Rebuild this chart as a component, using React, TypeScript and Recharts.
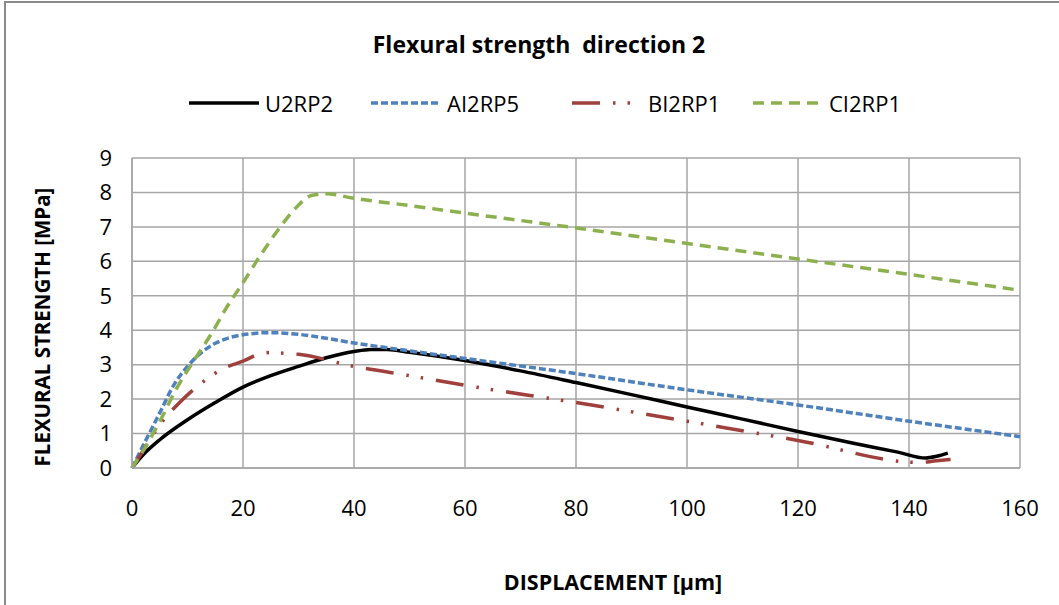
import React from "react";
import { LineChart, Line, XAxis, YAxis, CartesianGrid } from "recharts";

// displacement [µm] / strength [MPa] samples per specimen
const u2rp2X = [0, 2, 5, 10, 15, 20, 25, 30, 35, 40, 43, 46, 50, 60, 70, 80, 90, 100, 110, 120, 130, 138, 143, 145, 147];
const u2rp2Y = [0, 0.38, 0.82, 1.4, 1.9, 2.35, 2.68, 2.95, 3.2, 3.38, 3.44, 3.44, 3.36, 3.12, 2.82, 2.48, 2.13, 1.77, 1.42, 1.06, 0.72, 0.46, 0.29, 0.34, 0.43];

const ai2rp5X = [0, 2, 5, 7.5, 10, 12.5, 15, 17.5, 20, 25, 30, 40, 50, 60, 80, 100, 120, 140, 160];
const ai2rp5Y = [0, 0.65, 1.6, 2.4, 2.95, 3.35, 3.62, 3.78, 3.87, 3.93, 3.88, 3.63, 3.4, 3.18, 2.74, 2.27, 1.83, 1.36, 0.91];

const bi2rp1X = [0, 2, 5, 9, 12, 16.5, 20, 24, 30, 40, 50, 60, 80, 100, 120, 142, 144.5, 147.5];
const bi2rp1Y = [0, 0.5, 1.25, 1.97, 2.4, 2.89, 3.1, 3.35, 3.3, 2.95, 2.68, 2.4, 1.9, 1.36, 0.8, 0.16, 0.2, 0.25];

const ci2rp1X = [0, 2, 5, 8, 11.5, 14.5, 17, 20, 23, 26.5, 29.5, 32.5, 35, 40, 50, 60, 80, 100, 120, 140, 160];
const ci2rp1Y = [0, 0.5, 1.35, 2.3, 3.2, 3.95, 4.65, 5.38, 6.14, 6.95, 7.55, 7.92, 7.96, 7.83, 7.62, 7.4, 6.97, 6.52, 6.07, 5.62, 5.16];

const xTicks = [0, 20, 40, 60, 80, 100, 120, 140, 160];
const yTicks = [0, 1, 2, 3, 4, 5, 6, 7, 8, 9];

const toPoints = (xs: number[], ys: number[]) => xs.map((x, i) => ({ x, y: ys[i] }));

const series = [
  { name: "U2RP2", data: toPoints(u2rp2X, u2rp2Y), color: "#000000", dash: undefined, legendLeft: 188 },
  { name: "AI2RP5", data: toPoints(ai2rp5X, ai2rp5Y), color: "#4F81BD", dash: "7 3", legendLeft: 370 },
  { name: "BI2RP1", data: toPoints(bi2rp1X, bi2rp1Y), color: "#A0403C", dash: "28 13 2.5 12 2.5 13", legendLeft: 571 },
  { name: "CI2RP1", data: toPoints(ci2rp1X, ci2rp1Y), color: "#8DB04F", dash: "11 7", legendLeft: 752 },
];

const FONT = "'Open Sans', Lato, sans-serif";
const GRID = "#a6a6a6";

const LegendRow = () => (
  <>
    {series.map((s) => (
      <div
        key={s.name}
        style={{
          position: "absolute",
          top: 88,
          left: s.legendLeft,
          display: "flex",
          alignItems: "center",
          fontFamily: FONT,
          fontSize: 22,
          whiteSpace: "nowrap",
        }}
      >
        <svg width={72} height={10} style={{ marginRight: 5 }}>
          <line x1={1} y1={5} x2={71} y2={5} stroke={s.color} strokeWidth={3.5} strokeDasharray={s.dash} />
        </svg>
        <span>{s.name}</span>
      </div>
    ))}
  </>
);

export default function App() {
  return (
    <div style={{ position: "fixed", left: 0, top: 0, width: 1059, height: 605, background: "#fff", overflow: "hidden" }}>
      <div
        style={{
          position: "absolute",
          left: 4,
          top: 1,
          width: 1200,
          height: 800,
          borderTop: "2px solid #8a8a8a",
          borderLeft: "2px solid #8a8a8a",
        }}
      />
      <div style={{ position: "absolute", top: 0, left: 0 }}>
        <LineChart width={1059} height={605} margin={{ top: 158, right: 39, bottom: 0, left: 0 }}>
          <CartesianGrid stroke={GRID} strokeWidth={1.5} />
          <XAxis
            type="number"
            dataKey="x"
            domain={[0, 160]}
            ticks={xTicks}
            allowDuplicatedCategory={false}
            height={137}
            axisLine={{ stroke: GRID, strokeWidth: 1.5 }}
            tickLine={false}
            tickSize={0}
            tickMargin={32}
            tick={{ fill: "#000", fontFamily: FONT, fontSize: 22 }}
          />
          <YAxis
            type="number"
            dataKey="y"
            domain={[0, 9]}
            ticks={yTicks}
            width={132}
            axisLine={{ stroke: GRID, strokeWidth: 1.5 }}
            tickLine={false}
            tickSize={0}
            tickMargin={20}
            tick={{ fill: "#000", fontFamily: FONT, fontSize: 22 }}
          />
          {series.map((s) => (
            <Line
              key={s.name}
              name={s.name}
              data={s.data}
              dataKey="y"
              type="monotone"
              stroke={s.color}
              strokeWidth={3.5}
              strokeDasharray={s.dash}
              dot={false}
              activeDot={false}
              isAnimationActive={false}
            />
          ))}
        </LineChart>
      </div>
      <div
        style={{
          position: "absolute",
          top: 28,
          left: 0,
          width: 1078,
          textAlign: "center",
          fontFamily: FONT,
          fontWeight: 700,
          fontSize: 23,
        }}
      >
        Flexural strength&nbsp; direction 2
      </div>
      <LegendRow />
      <div
        style={{
          position: "absolute",
          top: 567,
          left: 413,
          width: 400,
          textAlign: "center",
          fontFamily: FONT,
          fontWeight: 700,
          fontSize: 21.5,
        }}
      >
        DISPLACEMENT [µm]
      </div>
      <div
        style={{
          position: "absolute",
          left: 42,
          top: 327,
          transform: "translate(-50%, -50%) rotate(-90deg)",
          whiteSpace: "nowrap",
          fontFamily: FONT,
          fontWeight: 700,
          fontSize: 20.5,
        }}
      >
        FLEXURAL STRENGTH [MPa]
      </div>
    </div>
  );
}
